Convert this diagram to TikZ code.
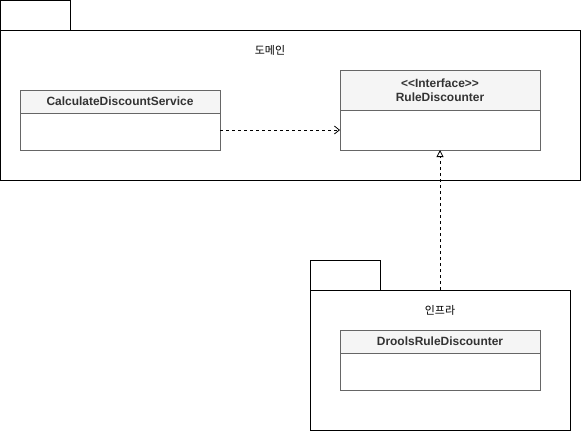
\documentclass[tikz,border=0pt]{standalone}
\usepackage{fontspec}
\setmainfont{Liberation Sans}
\newfontfamily\kr{Noto Sans CJK KR}
\usetikzlibrary{arrows.meta}
\definecolor{hdr}{HTML}{F5F5F5}
\definecolor{cls}{HTML}{666666}
\definecolor{txt}{HTML}{333333}
\begin{document}
\begin{tikzpicture}[x=1bp,y=-1bp,
  pkg/.style={draw=black,line width=1bp},
  clsbox/.style={draw=cls,line width=0.8bp,fill=white},
  clshdr/.style={draw=cls,line width=0.8bp,fill=hdr},
  clstext/.style={font=\fontsize{12}{14}\selectfont\bfseries,text=txt,align=center},
  pkgtext/.style={font=\kr\fontsize{11}{13}\selectfont,text=black},
  dep/.style={dashed,dash pattern=on 3bp off 3bp,line width=0.8bp,-{Straight Barb[length=5bp,width=8bp]}},
  real/.style={dashed,dash pattern=on 3bp off 3bp,line width=0.8bp,-{Triangle[open,length=7bp,width=7bp,fill=white]}}]
\useasboundingbox (0,0) rectangle (581,431);
% package 1
\draw[pkg] (0.5,0.5) rectangle (70,30);
\draw[pkg] (0.5,30) rectangle (580,180);
\node[pkgtext] (l1) at (270,50) {도메인};
% package 2
\draw[pkg] (310,260) rectangle (380,290);
\draw[pkg] (310,290) rectangle (570,430);
\node[pkgtext] (l2) at (440,310) {인프라};
% CalculateDiscountService
\draw[clsbox] (20,90) rectangle (220,150);
\draw[clshdr] (20,90) rectangle (220,113);
\node[clstext] (t1) at (120,101.5) {CalculateDiscountService};
\coordinate (c1) at (220,130);
% RuleDiscounter
\draw[clsbox] (340,70) rectangle (540,150);
\draw[clshdr] (340,70) rectangle (540,110);
\node[clstext] (t2) at (440,90) {{<}{<}Interface{>}{>}\\RuleDiscounter};
\coordinate (c2) at (340,130);
\coordinate (c3) at (440,150);
% DroolsRuleDiscounter
\draw[clsbox] (340,330) rectangle (540,390);
\draw[clshdr] (340,330) rectangle (540,353);
\node[clstext] (t3) at (440,341.5) {DroolsRuleDiscounter};
\coordinate (c4) at (440,290);
% connectors
\draw[dep] (c1) -- (c2);
\draw[real] (c4) -- (c3);
\end{tikzpicture}
\end{document}
